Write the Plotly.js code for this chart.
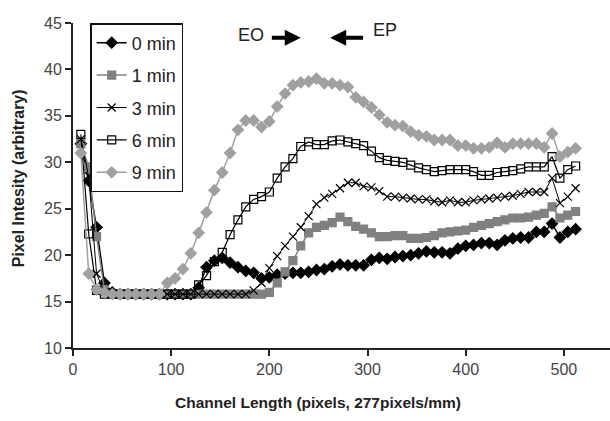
<!DOCTYPE html>
<html><head><meta charset="utf-8">
<script src="https://cdn.plot.ly/plotly-3.0.1.min.js"></script>
<style>html,body{margin:0;padding:0;background:#fff}#c{width:610px;height:421px}</style>
</head><body><div id="c"></div>
<script>
const xPix = [8,16,24,32,40,48,56,64,72,80,88,96,104,112,120,128,136,144,152,160,168,176,184,192,200,208,216,224,232,240,248,256,264,272,280,288,296,304,312,320,328,336,344,352,360,368,376,384,392,400,408,416,424,432,440,448,456,464,472,480,488,496,504,512];

const min0 = [32,28,23,17,16,15.8,15.8,15.8,15.8,15.8,15.8,15.8,15.8,15.8,15.8,16.5,18.7,19.4,19.7,19.2,18.7,18.3,18.1,17.5,17.6,17.9,18.0,18.1,18.1,18.2,18.4,18.5,18.8,19.0,18.9,18.9,18.9,19.5,19.7,19.6,19.8,19.9,20.0,20.2,20.4,20.3,20.3,20.2,20.7,21.0,21.1,21.3,21.3,21.1,21.6,21.8,21.9,21.9,22.5,22.5,23.4,21.9,22.5,22.8];

const min1 = [32,29.5,22,16.3,15.8,15.8,15.8,15.8,15.8,15.8,15.8,15.8,15.8,15.8,15.8,15.8,15.8,15.8,15.8,15.8,15.8,15.8,15.8,15.8,16.0,17.0,18.2,19.4,21.0,22.4,23.0,23.2,23.5,24.1,23.6,23.1,22.8,22.4,22.0,22.0,22.1,22.1,21.8,21.8,21.9,22.1,22.4,22.5,22.6,22.7,23.0,23.2,23.4,23.6,23.8,24.0,24.0,24.1,24.3,24.5,25.2,24.0,24.3,24.7];

const min3 = [32.5,28.5,18,16,15.8,15.8,15.8,15.8,15.8,15.8,15.8,15.8,15.8,15.8,15.8,15.8,15.8,15.8,15.8,15.8,15.8,15.8,16.2,17.0,18.6,19.9,21.0,22.0,23.0,24.2,25.5,26.2,26.6,27.2,27.8,27.8,27.4,27.3,26.9,26.3,26.3,26.2,26.1,26.0,26.0,25.8,25.7,25.9,25.7,25.7,25.9,26.0,26.1,26.2,26.3,26.4,26.6,26.8,26.8,26.8,28.3,25.6,26.3,27.2];

const min6 = [33,22.3,16.2,15.8,15.8,15.8,15.8,15.8,15.8,15.8,15.8,15.8,15.8,15.8,15.8,16.8,17.8,19.3,20.3,22.2,23.8,25.2,26.0,26.3,26.8,28.3,29.5,30.4,31.7,32.2,31.9,31.9,32.3,32.4,32.2,32.0,31.8,31.2,30.5,30.2,30.1,30.0,29.7,29.4,29.2,29.0,29.1,29.2,29.2,29.2,29.0,28.6,28.6,28.9,29.0,29.1,29.3,29.5,29.5,29.5,30.6,28.3,29.2,29.6];

const min9 = [31,18,16.3,16,15.8,15.8,15.8,15.8,15.8,15.8,15.8,17.0,17.5,18.5,20.2,22.4,24.6,27.0,28.9,31.0,33.5,34.5,34.5,33.8,34.4,36.0,37.4,38.3,38.6,38.7,39.0,38.5,38.5,38.3,38.1,37.0,36.5,35.9,35.1,34.3,34.0,33.9,33.3,32.9,32.8,32.4,32.4,32.4,31.8,31.8,31.5,31.5,31.6,32.1,31.6,32.0,32.0,32.0,32.0,31.6,33.1,30.6,31.1,31.5];

const names = ['0 min','1 min','3 min','6 min','9 min'];
const series = [min0,min1,min3,min6,min9];
const styles = [
  {lc:'#000000', mc:'#000000', sym:'diamond', sz:8.5, lw:1.5},
  {lc:'#808080', mc:'#808080', sym:'square', sz:8, lw:1.5},
  {lc:'#000000', mc:'#000000', sym:'x-thin-open', sz:8, lw:1},
  {lc:'#000000', mc:'#000000', sym:'square-open', sz:8, lw:1.2},
  {lc:'#a0a0a0', mc:'#a0a0a0', sym:'diamond', sz:8.5, lw:1.5}
];

const traces = series.map((s,i)=>({
  type:'scatter', mode:'lines+markers', name:names[i], x:xPix, y:s,
  legendgroup:'g'+i,
  line:{color:styles[i].lc, width:styles[i].lw},
  marker:{symbol:styles[i].sym, size:styles[i].sz, color:styles[i].mc, line:{color:styles[i].mc, width:1.2}}
}));

const layout = {
  width:610, height:421,
  margin:{l:73, r:0, t:23, b:73},
  paper_bgcolor:'#fff', plot_bgcolor:'#fff',
  font:{family:'Liberation Sans, Arial, sans-serif', color:'#333'},
  showlegend:true,
  legend:{x:0.032, y:1, xanchor:'left', yanchor:'top', bgcolor:'#fff',
    bordercolor:'#111', borderwidth:1.5, traceorder:'grouped', tracegroupgap:6,
    font:{size:18, color:'#222'}},
  xaxis:{range:[0,547], dtick:100, tick0:0, showline:true, linecolor:'#222', linewidth:2,
    ticks:'outside', ticklen:6, tickwidth:2, tickcolor:'#222', showgrid:false, zeroline:false,
    tickfont:{size:16, color:'#444'}},
  yaxis:{range:[10,45], dtick:5, tick0:10, showline:true, linecolor:'#222', linewidth:2,
    ticks:'outside', ticklen:6, tickwidth:2, tickcolor:'#222', showgrid:false, zeroline:false,
    tickfont:{size:16, color:'#444'}},
  annotations:[
    {x:0.456, y:-0.169, xref:'paper', yref:'paper', xanchor:'center', yanchor:'middle',
      text:'<b>Channel Length (pixels, 277pixels/mm)</b>',
      showarrow:false, font:{size:15.5, color:'#222'}},
    {x:-0.102, y:0.523, xref:'paper', yref:'paper', xanchor:'center', yanchor:'middle',
      text:'<b>Pixel Intesity (arbitrary)</b>', textangle:-90,
      showarrow:false, font:{size:16, color:'#222'}},
    {x:181, y:43.7, xref:'x', yref:'y', text:'EO', showarrow:false, font:{size:18, color:'#222'}},
    {x:318, y:44.2, xref:'x', yref:'y', text:'EP', showarrow:false, font:{size:18, color:'#222'}},
    {x:232, y:43.4, ax:201, ay:43.4, xref:'x', yref:'y', axref:'x', ayref:'y', text:'', showarrow:true,
      arrowhead:2, arrowsize:0.8, arrowwidth:4, arrowcolor:'#000'},
    {x:262, y:43.4, ax:297, ay:43.4, xref:'x', yref:'y', axref:'x', ayref:'y', text:'', showarrow:true,
      arrowhead:2, arrowsize:0.8, arrowwidth:4, arrowcolor:'#000'}
  ]
};
Plotly.newPlot('c', traces, layout, {displayModeBar:false, staticPlot:true});
</script></body></html>
